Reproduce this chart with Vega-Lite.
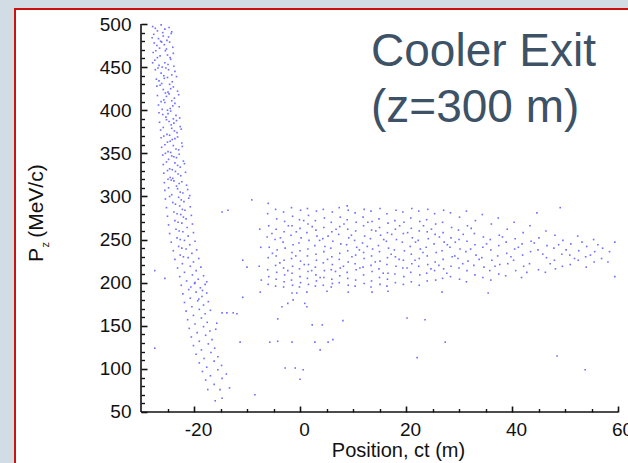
{
  "$schema": "https://vega.github.io/schema/vega-lite/v6.json",
  "width": 615,
  "height": 456,
  "autosize": {"type": "none"},
  "padding": {"left": 15, "top": 9, "right": -2, "bottom": -2},
  "background": "#d2dce4",
  "config": {
    "view": {"fill": "white", "stroke": "#cc1111", "strokeWidth": 2},
    "font": "Liberation Sans",
    "axis": {"grid": false, "domain": false, "labelFont": "Liberation Sans", "titleFont": "Liberation Sans", "labelColor": "#111", "tickColor": "#111", "titleColor": "#111", "labelFlush": false, "labelOverlap": false, "labelBound": false}
  },
  "resolve": {"axis": {"x": "independent", "y": "independent"}},
  "layer": [
    {
      "data": {"values": [
        {"x":-27.8,"y":497},{"x":-26.9,"y":492},{"x":-26.2,"y":499},{"x":-25.5,"y":494},{"x":-24.7,"y":496},{"x":-24.2,"y":491},{"x":-27.3,"y":495},{"x":-25.9,"y":490},
        {"x":-27.6,"y":488},{"x":-26.7,"y":483},{"x":-25.8,"y":486},{"x":-25.1,"y":481},{"x":-24.3,"y":489},{"x":-27.9,"y":484},{"x":-26.3,"y":480},{"x":-24.8,"y":485},
        {"x":-27.5,"y":478},{"x":-26.5,"y":472},{"x":-25.6,"y":476},{"x":-24.6,"y":479},{"x":-24.0,"y":473},{"x":-27.0,"y":475},{"x":-25.2,"y":471},{"x":-26.1,"y":479},
        {"x":-27.7,"y":467},{"x":-26.4,"y":463},{"x":-25.4,"y":469},{"x":-24.5,"y":461},{"x":-23.9,"y":466},{"x":-26.9,"y":461},{"x":-25.0,"y":464},{"x":-27.2,"y":469},
        {"x":-27.4,"y":458},{"x":-26.6,"y":452},{"x":-25.5,"y":455},{"x":-24.4,"y":459},{"x":-23.8,"y":451},{"x":-26.0,"y":450},{"x":-24.9,"y":453},{"x":-27.8,"y":455},
        {"x":-27.3,"y":447},{"x":-26.2,"y":443},{"x":-25.3,"y":449},{"x":-24.2,"y":441},{"x":-23.6,"y":445},{"x":-26.8,"y":449},{"x":-24.8,"y":447},{"x":-25.7,"y":440},
        {"x":-27.1,"y":436},{"x":-26.1,"y":431},{"x":-25.0,"y":438},{"x":-24.1,"y":433},{"x":-23.3,"y":439},{"x":-26.6,"y":434},{"x":-24.6,"y":430},{"x":-25.6,"y":437},
        {"x":-27.0,"y":428},{"x":-25.8,"y":424},{"x":-24.9,"y":421},{"x":-23.9,"y":427},{"x":-23.1,"y":422},{"x":-26.4,"y":429},{"x":-24.4,"y":425},{"x":-25.4,"y":420},
        {"x":-26.9,"y":417},{"x":-25.7,"y":412},{"x":-24.7,"y":419},{"x":-23.7,"y":414},{"x":-22.9,"y":418},{"x":-26.2,"y":410},{"x":-24.2,"y":411},{"x":-25.2,"y":416},
        {"x":-26.7,"y":406},{"x":-25.5,"y":409},{"x":-24.5,"y":402},{"x":-23.6,"y":408},{"x":-22.8,"y":404},{"x":-26.0,"y":401},{"x":-24.0,"y":405},{"x":-25.0,"y":400},
        {"x":-26.6,"y":397},{"x":-25.3,"y":392},{"x":-24.4,"y":399},{"x":-23.4,"y":394},{"x":-22.7,"y":391},{"x":-25.9,"y":395},{"x":-23.9,"y":390},{"x":-24.9,"y":396},
        {"x":-26.5,"y":386},{"x":-25.2,"y":389},{"x":-24.3,"y":383},{"x":-23.3,"y":388},{"x":-22.6,"y":381},{"x":-25.8,"y":380},{"x":-23.8,"y":385},{"x":-24.7,"y":387},
        {"x":-26.3,"y":377},{"x":-25.1,"y":372},{"x":-24.2,"y":379},{"x":-23.2,"y":374},{"x":-22.4,"y":378},{"x":-25.7,"y":370},{"x":-23.7,"y":376},{"x":-24.6,"y":371},
        {"x":-26.2,"y":368},{"x":-25.0,"y":363},{"x":-24.1,"y":366},{"x":-23.1,"y":369},{"x":-22.3,"y":362},{"x":-25.5,"y":360},{"x":-23.6,"y":367},{"x":-24.5,"y":364},
        {"x":-26.1,"y":357},{"x":-24.9,"y":352},{"x":-23.9,"y":359},{"x":-22.9,"y":354},{"x":-22.2,"y":358},{"x":-25.4,"y":350},{"x":-23.4,"y":355},{"x":-24.4,"y":351},
        {"x":-25.9,"y":348},{"x":-24.8,"y":343},{"x":-23.8,"y":346},{"x":-22.8,"y":349},{"x":-22.0,"y":341},{"x":-25.2,"y":340},{"x":-23.3,"y":345},{"x":-24.2,"y":347},
        {"x":-25.8,"y":337},{"x":-24.6,"y":332},{"x":-23.6,"y":339},{"x":-22.6,"y":334},{"x":-21.8,"y":338},{"x":-25.0,"y":330},{"x":-23.1,"y":336},{"x":-24.1,"y":331},
        {"x":-25.7,"y":327},{"x":-24.5,"y":322},{"x":-23.5,"y":329},{"x":-22.5,"y":324},{"x":-21.6,"y":328},{"x":-24.9,"y":320},{"x":-23.0,"y":326},{"x":-24.0,"y":321},
        {"x":-25.6,"y":316},{"x":-24.3,"y":319},{"x":-23.3,"y":312},{"x":-22.3,"y":317},{"x":-21.4,"y":313},{"x":-24.8,"y":310},{"x":-22.8,"y":315},{"x":-23.8,"y":318},
        {"x":-25.5,"y":307},{"x":-24.2,"y":302},{"x":-23.1,"y":309},{"x":-22.1,"y":304},{"x":-21.2,"y":308},{"x":-24.6,"y":300},{"x":-22.6,"y":305},{"x":-20.8,"y":301},
        {"x":-25.4,"y":297},{"x":-24.0,"y":293},{"x":-22.9,"y":299},{"x":-21.9,"y":294},{"x":-21.0,"y":298},{"x":-23.5,"y":291},{"x":-22.4,"y":296},
        {"x":-25.2,"y":287},{"x":-23.8,"y":282},{"x":-22.7,"y":289},{"x":-21.7,"y":284},{"x":-20.7,"y":288},{"x":-23.2,"y":280},{"x":-22.2,"y":285},
        {"x":-25.0,"y":277},{"x":-23.6,"y":272},{"x":-22.5,"y":279},{"x":-21.5,"y":274},{"x":-20.5,"y":278},{"x":-23.0,"y":270},{"x":-22.0,"y":276},
        {"x":-24.8,"y":267},{"x":-23.4,"y":262},{"x":-22.3,"y":269},{"x":-21.3,"y":264},{"x":-20.3,"y":268},{"x":-22.8,"y":260},
        {"x":-24.6,"y":257},{"x":-23.2,"y":252},{"x":-22.1,"y":259},{"x":-21.1,"y":254},{"x":-20.1,"y":258},{"x":-22.6,"y":250},
        {"x":-24.3,"y":247},{"x":-22.9,"y":242},{"x":-21.8,"y":249},{"x":-20.8,"y":244},{"x":-19.8,"y":248},{"x":-22.3,"y":240},
        {"x":-23.9,"y":237},{"x":-22.6,"y":232},{"x":-21.5,"y":239},{"x":-20.4,"y":234},{"x":-19.5,"y":238},{"x":-22.0,"y":230},
        {"x":-23.6,"y":227},{"x":-22.2,"y":222},{"x":-21.1,"y":229},{"x":-20.1,"y":224},{"x":-19.1,"y":228},
        {"x":-23.1,"y":217},{"x":-21.8,"y":212},{"x":-20.7,"y":219},{"x":-19.6,"y":214},{"x":-18.7,"y":218},{"x":-27.4,"y":214},
        {"x":-22.7,"y":207},{"x":-21.4,"y":202},{"x":-20.3,"y":209},{"x":-19.2,"y":204},{"x":-18.2,"y":208},{"x":-17.6,"y":201},{"x":-25.5,"y":205},{"x":-19.8,"y":200},
        {"x":-22.4,"y":197},{"x":-21.0,"y":192},{"x":-19.9,"y":199},{"x":-18.8,"y":194},{"x":-17.9,"y":198},{"x":-18.4,"y":191},{"x":-20.6,"y":195},
        {"x":-22.1,"y":187},{"x":-20.7,"y":182},{"x":-19.6,"y":189},{"x":-18.5,"y":184},{"x":-17.6,"y":188},{"x":-19.1,"y":181},
        {"x":-21.8,"y":177},{"x":-20.4,"y":172},{"x":-19.3,"y":179},{"x":-18.2,"y":174},{"x":-17.3,"y":178},
        {"x":-21.5,"y":167},{"x":-20.1,"y":162},{"x":-19.0,"y":169},{"x":-17.9,"y":164},{"x":-16.9,"y":168},
        {"x":-21.2,"y":157},{"x":-19.8,"y":152},{"x":-18.6,"y":159},{"x":-17.5,"y":154},
        {"x":-20.9,"y":147},{"x":-19.4,"y":142},{"x":-18.2,"y":149},{"x":-17.0,"y":144},{"x":-15.9,"y":146},
        {"x":-20.5,"y":137},{"x":-19.0,"y":132},{"x":-17.8,"y":139},{"x":-16.6,"y":134},
        {"x":-20.1,"y":127},{"x":-18.6,"y":122},{"x":-17.3,"y":129},{"x":-16.1,"y":124},{"x":-27.4,"y":124},
        {"x":-19.6,"y":117},{"x":-18.1,"y":112},{"x":-16.8,"y":119},{"x":-15.5,"y":114},
        {"x":-19.0,"y":107},{"x":-17.6,"y":102},{"x":-16.2,"y":109},{"x":-14.8,"y":104},
        {"x":-18.4,"y":97},{"x":-16.9,"y":92},{"x":-15.5,"y":99},{"x":-13.9,"y":94},
        {"x":-17.8,"y":87},{"x":-16.2,"y":82},{"x":-14.7,"y":89},
        {"x":-17.4,"y":76},{"x":-15.1,"y":76},{"x":-13.3,"y":78},
        {"x":-14.7,"y":66},{"x":-16.0,"y":63},
        {"x":-7.6,"y":262},{"x":-7.4,"y":241},{"x":-7.7,"y":219},{"x":-7.3,"y":203},{"x":-10.8,"y":226},{"x":-10.0,"y":218},
        {"x":-6.1,"y":280},{"x":-5.9,"y":266},{"x":-6.2,"y":253},{"x":-5.8,"y":241},{"x":-6.0,"y":229},{"x":-6.1,"y":215},{"x":-5.9,"y":207},{"x":-6.0,"y":198},
        {"x":-4.6,"y":285},{"x":-4.4,"y":274},{"x":-4.5,"y":262},{"x":-4.7,"y":250},{"x":-4.3,"y":238},{"x":-4.5,"y":231},{"x":-4.6,"y":220},{"x":-4.4,"y":212},{"x":-4.5,"y":204},{"x":-4.6,"y":196},
        {"x":-3.1,"y":282},{"x":-2.9,"y":271},{"x":-3.0,"y":259},{"x":-3.2,"y":247},{"x":-2.8,"y":240},{"x":-3.0,"y":226},{"x":-3.1,"y":217},{"x":-2.9,"y":209},{"x":-3.0,"y":201},{"x":-3.1,"y":195},
        {"x":-1.6,"y":287},{"x":-1.4,"y":277},{"x":-1.5,"y":266},{"x":-1.7,"y":255},{"x":-1.3,"y":244},{"x":-1.5,"y":235},{"x":-1.6,"y":228},{"x":-1.4,"y":219},{"x":-1.5,"y":211},{"x":-1.6,"y":203},{"x":-1.4,"y":197},
        {"x":0.1,"y":284},{"x":-0.1,"y":273},{"x":0.0,"y":263},{"x":0.2,"y":252},{"x":-0.2,"y":246},{"x":0.0,"y":237},{"x":0.1,"y":225},{"x":-0.1,"y":216},{"x":0.0,"y":207},{"x":0.1,"y":200},{"x":-0.1,"y":195},
        {"x":1.4,"y":286},{"x":1.6,"y":278},{"x":1.5,"y":268},{"x":1.3,"y":258},{"x":1.7,"y":249},{"x":1.5,"y":239},{"x":1.4,"y":231},{"x":1.6,"y":221},{"x":1.5,"y":213},{"x":1.4,"y":205},{"x":1.6,"y":198},
        {"x":3.1,"y":283},{"x":2.9,"y":272},{"x":3.0,"y":261},{"x":3.2,"y":254},{"x":2.8,"y":243},{"x":3.0,"y":233},{"x":3.1,"y":226},{"x":2.9,"y":218},{"x":3.0,"y":209},{"x":3.1,"y":202},{"x":2.9,"y":196},
        {"x":4.4,"y":285},{"x":4.6,"y":275},{"x":4.5,"y":264},{"x":4.3,"y":251},{"x":4.7,"y":242},{"x":4.5,"y":236},{"x":4.4,"y":223},{"x":4.6,"y":214},{"x":4.5,"y":206},{"x":4.4,"y":197},
        {"x":6.1,"y":282},{"x":5.9,"y":270},{"x":6.0,"y":259},{"x":6.2,"y":248},{"x":5.8,"y":240},{"x":6.0,"y":230},{"x":6.1,"y":221},{"x":5.9,"y":215},{"x":6.0,"y":204},{"x":6.1,"y":199},{"x":5.9,"y":195},
        {"x":7.4,"y":287},{"x":7.6,"y":276},{"x":7.5,"y":265},{"x":7.3,"y":256},{"x":7.7,"y":245},{"x":7.5,"y":234},{"x":7.4,"y":227},{"x":7.6,"y":217},{"x":7.5,"y":208},{"x":7.4,"y":200},
        {"x":9.1,"y":284},{"x":8.9,"y":273},{"x":9.0,"y":262},{"x":9.2,"y":252},{"x":8.8,"y":244},{"x":9.0,"y":237},{"x":9.1,"y":224},{"x":8.9,"y":212},{"x":9.0,"y":205},{"x":9.1,"y":197},{"x":8.9,"y":289},
        {"x":10.4,"y":281},{"x":10.6,"y":270},{"x":10.5,"y":260},{"x":10.3,"y":249},{"x":10.7,"y":241},{"x":10.5,"y":232},{"x":10.4,"y":222},{"x":10.6,"y":215},{"x":10.5,"y":203},{"x":10.4,"y":196},
        {"x":12.1,"y":285},{"x":11.9,"y":276},{"x":12.0,"y":266},{"x":12.2,"y":254},{"x":11.8,"y":246},{"x":12.0,"y":235},{"x":12.1,"y":228},{"x":11.9,"y":218},{"x":12.0,"y":209},{"x":12.1,"y":199},
        {"x":13.4,"y":283},{"x":13.6,"y":271},{"x":13.5,"y":261},{"x":13.3,"y":251},{"x":13.7,"y":239},{"x":13.5,"y":231},{"x":13.4,"y":220},{"x":13.6,"y":213},{"x":13.5,"y":202},{"x":13.4,"y":195},
        {"x":15.1,"y":286},{"x":14.9,"y":274},{"x":15.0,"y":264},{"x":15.2,"y":255},{"x":14.8,"y":243},{"x":15.0,"y":236},{"x":15.1,"y":225},{"x":14.9,"y":216},{"x":15.0,"y":206},{"x":15.1,"y":198},
        {"x":16.4,"y":280},{"x":16.6,"y":269},{"x":16.5,"y":258},{"x":16.3,"y":248},{"x":16.7,"y":240},{"x":16.5,"y":229},{"x":16.4,"y":221},{"x":16.6,"y":211},{"x":16.5,"y":204},{"x":16.4,"y":196},
        {"x":18.1,"y":284},{"x":17.9,"y":272},{"x":18.0,"y":262},{"x":18.2,"y":250},{"x":17.8,"y":238},{"x":18.0,"y":230},{"x":18.1,"y":219},{"x":17.9,"y":210},{"x":18.0,"y":200},
        {"x":19.4,"y":282},{"x":19.6,"y":270},{"x":19.5,"y":257},{"x":19.3,"y":247},{"x":19.7,"y":237},{"x":19.5,"y":226},{"x":19.4,"y":217},{"x":19.6,"y":207},{"x":19.5,"y":198},
        {"x":21.1,"y":286},{"x":20.9,"y":275},{"x":21.0,"y":263},{"x":21.2,"y":252},{"x":20.8,"y":242},{"x":21.0,"y":233},{"x":21.1,"y":222},{"x":20.9,"y":212},{"x":21.0,"y":201},
        {"x":22.4,"y":283},{"x":22.6,"y":271},{"x":22.5,"y":260},{"x":22.3,"y":249},{"x":22.7,"y":239},{"x":22.5,"y":228},{"x":22.4,"y":219},{"x":22.6,"y":209},{"x":22.5,"y":197},
        {"x":24.1,"y":285},{"x":23.9,"y":273},{"x":24.0,"y":259},{"x":24.2,"y":251},{"x":23.8,"y":241},{"x":24.0,"y":231},{"x":24.1,"y":221},{"x":23.9,"y":211},{"x":24.0,"y":202},
        {"x":25.4,"y":280},{"x":25.6,"y":268},{"x":25.5,"y":256},{"x":25.3,"y":245},{"x":25.7,"y":235},{"x":25.5,"y":224},{"x":25.4,"y":214},{"x":25.6,"y":203},
        {"x":27.1,"y":284},{"x":26.9,"y":270},{"x":27.0,"y":258},{"x":27.2,"y":247},{"x":26.8,"y":237},{"x":27.0,"y":227},{"x":27.1,"y":216},{"x":26.9,"y":205},
        {"x":28.4,"y":281},{"x":28.6,"y":264},{"x":28.5,"y":252},{"x":28.3,"y":241},{"x":28.7,"y":230},{"x":28.5,"y":219},{"x":28.4,"y":207},
        {"x":30.1,"y":276},{"x":29.9,"y":261},{"x":30.0,"y":250},{"x":30.2,"y":239},{"x":29.8,"y":228},{"x":30.0,"y":217},{"x":30.1,"y":204},
        {"x":31.4,"y":283},{"x":31.6,"y":266},{"x":31.5,"y":248},{"x":31.3,"y":236},{"x":31.7,"y":225},{"x":31.5,"y":214},{"x":31.4,"y":201},
        {"x":33.1,"y":272},{"x":32.9,"y":257},{"x":33.0,"y":244},{"x":33.2,"y":232},{"x":32.8,"y":220},{"x":33.0,"y":209},
        {"x":34.4,"y":279},{"x":34.6,"y":253},{"x":34.5,"y":241},{"x":34.3,"y":229},{"x":34.7,"y":218},{"x":34.5,"y":206},
        {"x":36.1,"y":268},{"x":35.9,"y":250},{"x":36.0,"y":238},{"x":36.2,"y":226},{"x":35.8,"y":214},{"x":36.0,"y":203},
        {"x":37.4,"y":275},{"x":37.6,"y":255},{"x":37.5,"y":243},{"x":37.3,"y":231},{"x":37.7,"y":221},{"x":37.5,"y":210},
        {"x":39.1,"y":262},{"x":38.9,"y":247},{"x":39.0,"y":234},{"x":39.2,"y":222},{"x":38.8,"y":208},
        {"x":40.4,"y":270},{"x":40.6,"y":251},{"x":40.5,"y":239},{"x":40.3,"y":226},{"x":40.7,"y":214},
        {"x":42.1,"y":258},{"x":41.9,"y":245},{"x":42.0,"y":232},{"x":42.2,"y":219},{"x":41.8,"y":206},
        {"x":43.4,"y":266},{"x":43.6,"y":248},{"x":43.5,"y":236},{"x":43.3,"y":222},
        {"x":44.7,"y":281},{"x":45.1,"y":252},{"x":44.9,"y":238},{"x":45.0,"y":215},
        {"x":46.4,"y":260},{"x":46.6,"y":243},{"x":46.5,"y":229},{"x":46.3,"y":212},
        {"x":48.1,"y":255},{"x":47.9,"y":240},{"x":48.0,"y":226},{"x":48.2,"y":216},
        {"x":49.1,"y":287},{"x":49.6,"y":249},{"x":49.4,"y":233},{"x":49.5,"y":219},
        {"x":51.1,"y":245},{"x":50.9,"y":232},{"x":51.0,"y":221},
        {"x":52.4,"y":254},{"x":52.6,"y":237},{"x":52.5,"y":226},
        {"x":54.1,"y":242},{"x":53.9,"y":230},{"x":54.0,"y":218},
        {"x":55.4,"y":250},{"x":55.6,"y":236},{"x":55.5,"y":224},
        {"x":57.1,"y":240},{"x":56.9,"y":228},
        {"x":58.1,"y":224},{"x":58.4,"y":236},{"x":59.4,"y":247},{"x":59.4,"y":207},
        {"x":-5.3,"y":257},{"x":-3.8,"y":223},{"x":-2.2,"y":266},{"x":-0.8,"y":231},{"x":0.7,"y":272},{"x":2.2,"y":214},{"x":3.7,"y":249},{"x":5.2,"y":227},{"x":6.8,"y":262},{"x":8.2,"y":219},
        {"x":9.7,"y":255},{"x":11.2,"y":238},{"x":12.8,"y":270},{"x":14.2,"y":224},{"x":15.8,"y":250},{"x":17.2,"y":233},{"x":18.8,"y":266},{"x":20.2,"y":217},{"x":21.8,"y":247},{"x":23.2,"y":235},
        {"x":24.8,"y":262},{"x":26.2,"y":220},{"x":27.8,"y":244},{"x":29.2,"y":231},{"x":30.8,"y":256},{"x":32.2,"y":239},{"x":-5.2,"y":234},{"x":-3.7,"y":252},{"x":-2.3,"y":214},{"x":-0.7,"y":259},
        {"x":0.8,"y":221},{"x":2.3,"y":265},{"x":3.8,"y":206},{"x":5.3,"y":254},{"x":6.7,"y":213},{"x":8.3,"y":268},{"x":9.8,"y":230},{"x":11.3,"y":217},{"x":12.7,"y":242},{"x":14.3,"y":260},
        {"x":15.7,"y":211},{"x":17.3,"y":256},{"x":18.7,"y":227},{"x":20.3,"y":258},{"x":21.7,"y":226},{"x":23.3,"y":266},{"x":24.7,"y":216},{"x":26.3,"y":253},{"x":27.7,"y":211},{"x":29.3,"y":247},
        {"x":30.7,"y":222},{"x":32.3,"y":263},{"x":33.8,"y":227},{"x":35.2,"y":245},{"x":36.8,"y":219},{"x":38.2,"y":253},{"x":39.8,"y":230},{"x":41.2,"y":241},{"x":42.8,"y":212},{"x":44.2,"y":246},
        {"x":45.8,"y":233},{"x":47.2,"y":222},{"x":48.8,"y":244},{"x":50.2,"y":238},{"x":51.8,"y":228},{"x":53.2,"y":247},{"x":54.8,"y":232},{"x":56.2,"y":244},
        {"x":-7.5,"y":189},{"x":-10.8,"y":183},{"x":-1.5,"y":188},{"x":-0.6,"y":188},{"x":1.3,"y":189},{"x":5.1,"y":190},{"x":9.1,"y":189},{"x":13.6,"y":189},{"x":16.6,"y":190},{"x":26.8,"y":189},{"x":35.5,"y":188},
        {"x":-3.4,"y":172},{"x":-2.3,"y":176},{"x":-1.3,"y":180},{"x":0.9,"y":176},{"x":1.3,"y":172},
        {"x":-14.7,"y":165},{"x":-13.8,"y":165},{"x":-12.6,"y":165},{"x":-11.9,"y":164},{"x":-15.7,"y":153},{"x":-4.2,"y":158},{"x":2.3,"y":151},{"x":4.2,"y":151},{"x":8.1,"y":156},{"x":20.2,"y":159},{"x":23.6,"y":157},
        {"x":-11.3,"y":131},{"x":-5.7,"y":131},{"x":-4.2,"y":132},{"x":-1.5,"y":131},{"x":2.8,"y":131},{"x":3.8,"y":122},{"x":5.3,"y":131},{"x":6.2,"y":134},{"x":27.4,"y":131},
        {"x":22.1,"y":113},{"x":48.5,"y":115},{"x":53.8,"y":99},{"x":-2.8,"y":101},{"x":-0.9,"y":101},{"x":0.6,"y":99},{"x":0.0,"y":88},{"x":-8.5,"y":70},
        {"x":-14.7,"y":282},{"x":-13.6,"y":284},{"x":-9.1,"y":296},{"x":-6.0,"y":292}
      ]},
      "mark": {"type": "square", "size": 2.6, "color": "#4a4aff", "opacity": 0.8},
      "encoding": {
        "x": {"field": "x", "type": "quantitative",
          "scale": {"domain": [-53.774, 62.264], "nice": false, "zero": false},
          "axis": {"orient": "bottom", "offset": -53, "values": [-20, 0, 20, 40, 60], "labelExpr": "datum.value + ''", "tickSize": -6, "tickWidth": 1.6, "labelPadding": 14, "labelOffset": 4, "labelFontSize": 19,
            "title": "Position, ct (m)", "titleFontSize": 20, "titleFontWeight": "normal", "titleX": 383, "titleY": 44, "titleBaseline": "alphabetic", "titleAlign": "center"}},
        "y": {"field": "y", "type": "quantitative",
          "scale": {"domain": [-11.47, 517.4], "nice": false, "zero": false},
          "axis": {"orient": "left", "offset": -126, "values": [50, 100, 150, 200, 250, 300, 350, 400, 450, 500], "tickSize": -6, "tickWidth": 1.6, "labelPadding": 16, "labelFontSize": 19, "title": null}}
      }
    },
    {
      "data": {"values": [
        {"x": -30, "y": 50, "x2": 60, "y2": 50},
        {"x": -30, "y": 50, "x2": -30, "y2": 500}
      ]},
      "mark": {"type": "rule", "color": "#111", "strokeWidth": 1.6},
      "encoding": {
        "x": {"field": "x", "type": "quantitative",
          "scale": {"domain": [-53.774, 62.264], "nice": false, "zero": false},
          "axis": {"orient": "bottom", "offset": -53, "values": [-25, -15, -10, -5, 5, 10, 15, 25, 30, 35, 45, 50, 55], "tickSize": -3.5, "tickWidth": 1.4, "labels": false, "title": null}},
        "y": {"field": "y", "type": "quantitative",
          "scale": {"domain": [-11.47, 517.4], "nice": false, "zero": false},
          "axis": {"orient": "left", "offset": -126, "values": [60, 70, 80, 90, 110, 120, 130, 140, 160, 170, 180, 190, 210, 220, 230, 240, 260, 270, 280, 290, 310, 320, 330, 340, 360, 370, 380, 390, 410, 420, 430, 440, 460, 470, 480, 490], "tickSize": -3.5, "tickWidth": 1.4, "labels": false, "title": null}},
        "x2": {"field": "x2"},
        "y2": {"field": "y2"}
      }
    },
    {
      "data": {"values": [
        {"t": "Cooler Exit", "x": 13.4, "y": 451.3},
        {"t": "(z=300 m)", "x": 13.4, "y": 386.7}
      ]},
      "mark": {"type": "text", "align": "left", "baseline": "alphabetic", "fontSize": 46, "font": "Liberation Sans", "color": "#3d5266"},
      "encoding": {
        "x": {"field": "x", "type": "quantitative", "scale": {"domain": [-53.774, 62.264], "nice": false, "zero": false}, "axis": null},
        "y": {"field": "y", "type": "quantitative", "scale": {"domain": [-11.47, 517.4], "nice": false, "zero": false}, "axis": null},
        "text": {"field": "t"}
      }
    },
    {
      "data": {"values": [{"t": "P", "x": -48.5, "y": 224}]},
      "mark": {"type": "text", "align": "left", "baseline": "alphabetic", "angle": 270, "fontSize": 21, "font": "Liberation Sans", "color": "#111"},
      "encoding": {
        "x": {"field": "x", "type": "quantitative", "scale": {"domain": [-53.774, 62.264], "nice": false, "zero": false}, "axis": null},
        "y": {"field": "y", "type": "quantitative", "scale": {"domain": [-11.47, 517.4], "nice": false, "zero": false}, "axis": null},
        "text": {"field": "t"}
      }
    },
    {
      "data": {"values": [{"t": "z", "x": -47.4, "y": 240.8}]},
      "mark": {"type": "text", "align": "left", "baseline": "alphabetic", "angle": 270, "fontSize": 11, "font": "Liberation Sans", "color": "#111"},
      "encoding": {
        "x": {"field": "x", "type": "quantitative", "scale": {"domain": [-53.774, 62.264], "nice": false, "zero": false}, "axis": null},
        "y": {"field": "y", "type": "quantitative", "scale": {"domain": [-11.47, 517.4], "nice": false, "zero": false}, "axis": null},
        "text": {"field": "t"}
      }
    },
    {
      "data": {"values": [{"t": "(MeV/c)", "x": -48.5, "y": 252}]},
      "mark": {"type": "text", "align": "left", "baseline": "alphabetic", "angle": 270, "fontSize": 21, "font": "Liberation Sans", "color": "#111"},
      "encoding": {
        "x": {"field": "x", "type": "quantitative", "scale": {"domain": [-53.774, 62.264], "nice": false, "zero": false}, "axis": null},
        "y": {"field": "y", "type": "quantitative", "scale": {"domain": [-11.47, 517.4], "nice": false, "zero": false}, "axis": null},
        "text": {"field": "t"}
      }
    }
  ]
}
